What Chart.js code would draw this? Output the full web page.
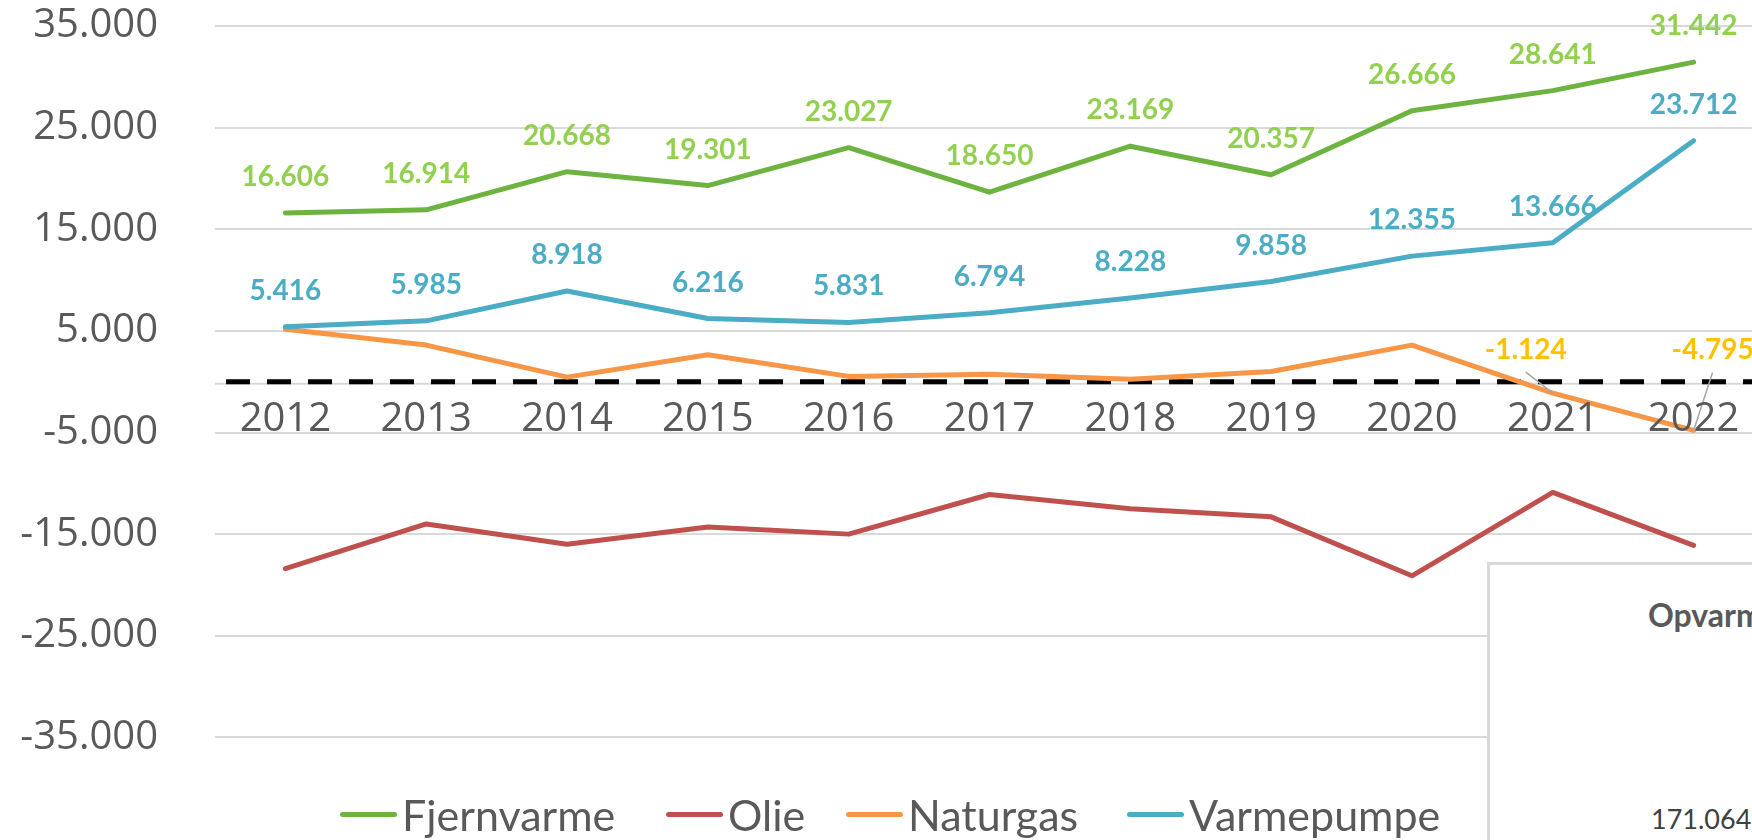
<!DOCTYPE html>
<html>
<head>
<meta charset="utf-8">
<script src="https://cdn.jsdelivr.net/npm/chart.js@4.4.1/dist/chart.umd.min.js"></script>
<style>
  html, body { margin: 0; padding: 0; background: #fff; overflow: hidden; width: 1752px; height: 840px; }
  #wrap { position: absolute; left: 0; top: 0; width: 1800px; height: 900px; }
  .leg { position: absolute; top: 793px; height: 43px; display: flex; align-items: center;
         font: 43px Lato; color: #595959; white-space: nowrap; }
  .leg i { display: inline-block; width: 57px; height: 5px; border-radius: 3px; margin-right: 5px; }
  #box { position: absolute; left: 1487px; top: 562px; width: 400px; height: 400px;
         border: 3px solid #d9d9d9; background: #fff; }
  .boxtxt { position: absolute; white-space: nowrap; font-family: Lato; }
</style>
</head>
<body>
<div id="wrap"><canvas id="myChart"></canvas></div>

<div class="leg" style="left:340px"><i style="background:#6DB33F"></i>Fjernvarme</div>
<div class="leg" style="left:666px"><i style="background:#C0504D"></i>Olie</div>
<div class="leg" style="left:846px"><i style="background:#F79646"></i>Naturgas</div>
<div class="leg" style="left:1127px"><i style="background:#4BACC6"></i>Varmepumpe</div>

<div id="box"></div>
<span class="boxtxt" style="left:1648px;top:595px;font-size:32px;font-weight:bold;color:#595959">Opvarmning</span>
<span class="boxtxt" style="left:1651px;top:802px;font-size:27px;color:#404040">171.064</span>

<script>
const years = ["2012", "2013", "2014", "2015", "2016", "2017", "2018", "2019", "2020", "2021", "2022"];

const fjernvarme = [16606, 16914, 20668, 19301, 23027, 18650, 23169, 20357, 26666, 28641, 31442];
const olie = [-18400, -14000, -16000, -14300, -15000, -11100, -12500, -13300, -19100, -10900, -16100];
const naturgas = [5150, 3600, 450, 2650, 520, 720, 250, 1000, 3600, -1124, -4795];
const varmepumpe = [5416, 5985, 8918, 6216, 5831, 6794, 8228, 9858, 12355, 13666, 23712];

const yMin = -45000;
const yMax = 35000;
const yStep = 10000;

// Excel-ish number format: 16.606
function fmt(v) {
    const s = Math.abs(Math.round(v)).toString().replace(/\B(?=(\d{3})+(?!\d))/g, ".");
    return (v < 0 ? "-" : "") + s;
}

// label colours per dataset (null = no labels)
const labelColors = ["#92D050", null, "#FFC000", "#4BACC6"];
// naturgas labels were dragged in the original, with leader lines
const naturgasLabelMoves = { 9: [-27, -43], 10: [19, -80] };

const zeroLine = {
    id: "zeroLine",
    beforeDatasetsDraw(chart) {
        const { ctx, chartArea, scales } = chart;
        const y = scales.y.getPixelForValue(0);
        ctx.save();
        ctx.strokeStyle = "#d9d9d9";
        ctx.lineWidth = 2;
        ctx.beginPath();
        ctx.moveTo(chartArea.left, y + 2);
        ctx.lineTo(chartArea.right, y + 2);
        ctx.stroke();
        ctx.strokeStyle = "#000";
        ctx.lineWidth = 5;
        ctx.setLineDash([24, 17]);
        ctx.lineDashOffset = 30;
        ctx.beginPath();
        ctx.moveTo(chartArea.left, y);
        ctx.lineTo(chartArea.right, y);
        ctx.stroke();
        ctx.restore();
    }
};

// category labels sit just under the zero line, like the Excel axis
const yearLabels = {
    id: "yearLabels",
    afterDraw(chart) {
        const { ctx, scales } = chart;
        const y = scales.y.getPixelForValue(0) + 49;
        ctx.save();
        ctx.font = "40px 'Open Sans'";
        ctx.fillStyle = "#595959";
        ctx.textAlign = "center";
        ctx.textBaseline = "alphabetic";
        chart.data.labels.forEach((lab, i) => {
            ctx.fillText(lab, scales.x.getPixelForValue(i), y);
        });
        ctx.restore();
    }
};

const valueLabels = {
    id: "valueLabels",
    afterDatasetsDraw(chart) {
        const ctx = chart.ctx;
        ctx.save();
        ctx.font = "bold 28px Lato";
        ctx.textAlign = "center";
        ctx.textBaseline = "middle";
        chart.data.datasets.forEach((ds, di) => {
            const color = labelColors[di];
            if (!color) return;
            const meta = chart.getDatasetMeta(di);
            meta.data.forEach((pt, i) => {
                let lx = pt.x, ly = pt.y - 36;
                if (di === 2) {
                    const mv = naturgasLabelMoves[i];
                    if (!mv) return;
                    lx = pt.x + mv[0];
                    ly = pt.y + mv[1];
                    ctx.strokeStyle = "#a6a6a6";
                    ctx.lineWidth = 1.5;
                    ctx.beginPath();
                    ctx.moveTo(lx, ly + 22);
                    ctx.lineTo(pt.x, pt.y);
                    ctx.stroke();
                }
                ctx.fillStyle = color;
                ctx.fillText(fmt(ds.data[i]), lx, ly);
            });
        });
        ctx.restore();
    }
};

function lineSet(label, data, color, order) {
    return {
        label, data, order,
        borderColor: color,
        backgroundColor: color,
        borderWidth: 5,
        pointRadius: 0,
        tension: 0,
        borderCapStyle: "round",
        borderJoinStyle: "round",
        fill: false
    };
}

const ctx = document.getElementById("myChart").getContext("2d");

new Chart(ctx, {
    type: "line",
    data: {
        labels: years,
        datasets: [
            lineSet("Fjernvarme", fjernvarme, "#6DB33F", 3),
            lineSet("Olie", olie, "#C0504D", 2),
            lineSet("Naturgas", naturgas, "#F79646", 1),
            lineSet("Varmepumpe", varmepumpe, "#4BACC6", 0)
        ]
    },
    options: {
        responsive: true,
        maintainAspectRatio: false,
        animation: false,
        layout: { padding: { left: 0, top: 26, right: 36, bottom: 61 } },
        plugins: {
            legend: { display: false },
            tooltip: { enabled: false }
        },
        scales: {
            x: {
                display: false,
                offset: true
            },
            y: {
                min: yMin,
                max: yMax,
                afterFit: (s) => { s.width = 215; },
                grid: {
                    color: (c) => (c.tick && c.tick.value === yMin ? "rgba(0,0,0,0)" : "#d9d9d9"),
                    lineWidth: 2,
                    drawTicks: true,
                    tickLength: 57,
                    tickColor: "rgba(0,0,0,0)"
                },
                border: { display: false },
                ticks: {
                    stepSize: yStep,
                    padding: 0,
                    color: "#595959",
                    font: { family: "Open Sans", size: 40 },
                    callback: (v) => (v === yMin ? "" : fmt(v))
                }
            }
        }
    },
    plugins: [zeroLine, valueLabels, yearLabels]
});
</script>
</body>
</html>
